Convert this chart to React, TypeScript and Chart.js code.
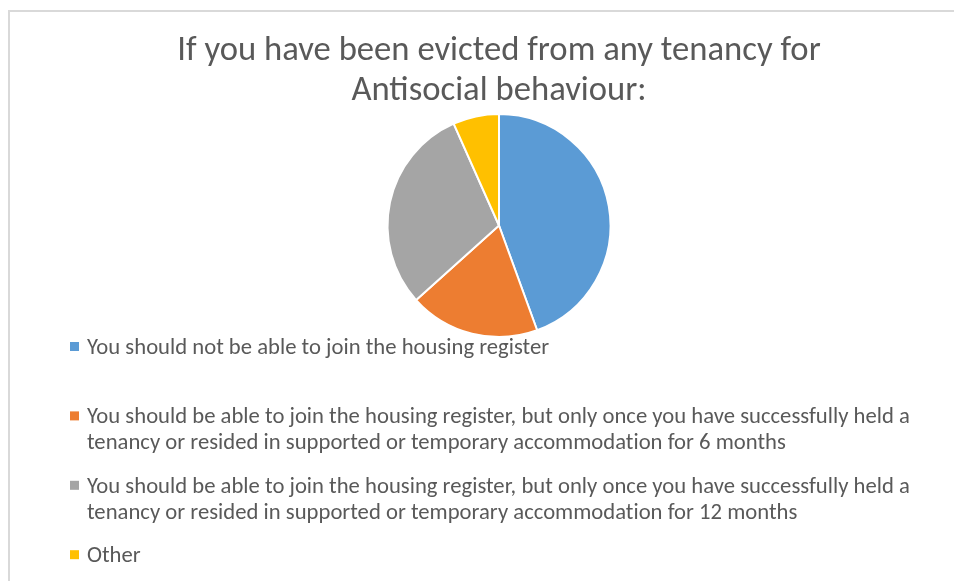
import React, { useEffect, useRef } from "react";
import { Chart, registerables } from "chart.js";

Chart.register(...registerables);

// ---- data ----
const titleLines = ["If you have been evicted from any tenancy for", "Antisocial behaviour:"];
const categories: string[][] = [
  ["You should not be able to join the housing register"],
  [
    "You should be able to join the housing register, but only once you have successfully held a",
    "tenancy or resided in supported or temporary accommodation for 6 months",
  ],
  [
    "You should be able to join the housing register, but only once you have successfully held a",
    "tenancy or resided in supported or temporary accommodation for 12 months",
  ],
  ["Other"],
];
const values = [40, 17, 27, 6];
const colors = ["#5B9BD5", "#ED7D31", "#A5A5A5", "#FFC000"];

const FONT = "Carlito, Calibri, 'Open Sans', sans-serif";
const TEXT = "#595959";

const framePlugin = {
  id: "frame",
  beforeDraw(chart: any) {
    const ctx = chart.ctx;
    ctx.save();
    ctx.fillStyle = "#ffffff";
    ctx.fillRect(0, 0, chart.width, chart.height);
    ctx.strokeStyle = "#d9d9d9";
    ctx.lineWidth = 2;
    ctx.beginPath();
    ctx.moveTo(9, chart.height);
    ctx.lineTo(9, 11);
    ctx.lineTo(chart.width, 11);
    ctx.stroke();
    ctx.restore();
  },
};

const legendPlugin = {
  id: "wrappedLegend",
  afterDraw(chart: any) {
    const ctx = chart.ctx;
    const labels = chart.data.labels as any[];
    const bg = chart.data.datasets[0].backgroundColor as string[];
    const lineH = 26;
    const pitch = 69.4;
    let y = chart.chartArea.bottom + 16;
    ctx.save();
    ctx.font = `22.67px ${FONT}`;
    try {
      (ctx as any).letterSpacing = "0.01px";
    } catch (e) {}
    ctx.textBaseline = "alphabetic";
    ctx.textAlign = "left";
    labels.forEach((lab, i) => {
      const lines = Array.isArray(lab) ? lab : [lab];
      ctx.fillStyle = bg[i];
      ctx.fillRect(70, y - 12, 9, 9);
      ctx.fillStyle = TEXT;
      lines.forEach((ln: string, j: number) => ctx.fillText(ln, 87, y + j * lineH));
      y += pitch;
    });
    ctx.restore();
  },
};

export default function App() {
  const ref = useRef<HTMLCanvasElement>(null);
  useEffect(() => {
    if (!ref.current) return;
    const chart = new Chart(ref.current, {
      type: "pie",
      data: {
        labels: categories,
        datasets: [
          {
            data: values,
            backgroundColor: colors,
            borderColor: "#ffffff",
            borderWidth: 2,
          },
        ],
      },
      options: {
        responsive: false,
        animation: false,
        layout: { padding: { top: 0, left: 44, right: 0, bottom: 243 } },
        plugins: {
          legend: { display: false },
          tooltip: { enabled: false },
          title: {
            display: true,
            text: titleLines,
            color: TEXT,
            font: { family: FONT, size: 34.67, weight: "normal", lineHeight: 1.14 },
            padding: { top: 32, bottom: 2 },
          },
        },
      },
      plugins: [framePlugin, legendPlugin],
    });
    return () => chart.destroy();
  }, []);
  return (
    <div style={{ position: "absolute", left: 0, top: 0, width: 954, height: 581, overflow: "hidden" }}>
      <canvas ref={ref} width={954} height={581} style={{ display: "block" }} />
    </div>
  );
}
